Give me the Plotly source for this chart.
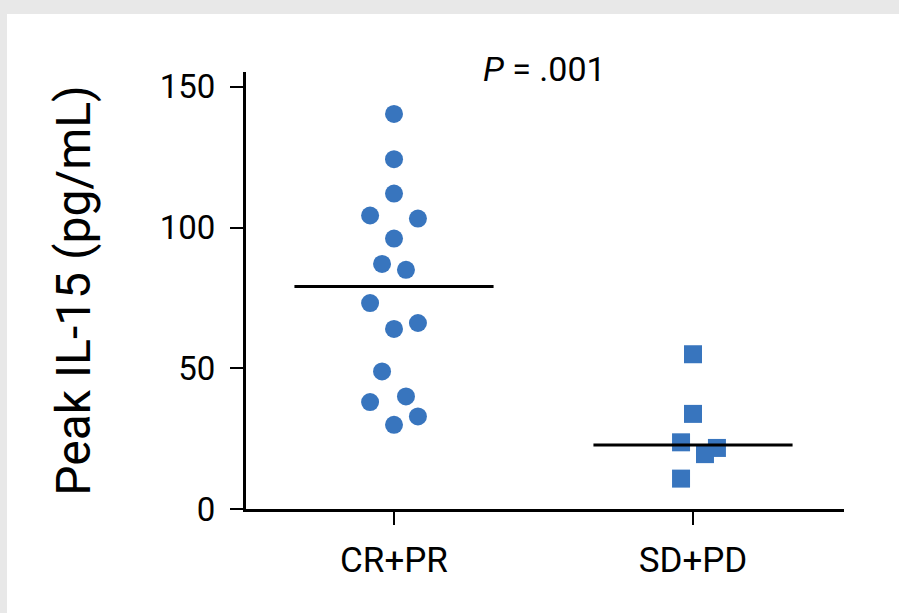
import plotly.graph_objects as go
import numpy as np

# ---- data ----
categories = ["CR+PR", "SD+PD"]
cr_pr_values = [140.4, 124.3, 112.1, 104.3, 103.2, 96.1, 87.1, 85.0, 73.2, 64.0, 66.1, 48.9, 40.0, 38.0, 32.9, 29.9]
cr_pr_slots = [0, 0, 0, -2, 2, 0, -1, 1, -2, 0, 2, -1, 1, -2, 2, 0]
sd_pd_values = [55.0, 33.8, 23.7, 21.7, 19.5, 10.8]
sd_pd_slots = [0, 0, -1, 2, 1, -1]
y_ticks = [0, 50, 100, 150]
p_text = "<i>P</i> = .001"
y_title = "Peak IL-15 (pg/mL)"

# ---- style ----
BLUE = "#3875BE"
SLOT = 0.040      # horizontal spacing of the dot columns (axis units)
HALF = 0.333      # half-width of median bars
FONT = "Roboto, Arial, sans-serif"

W, H = 899, 613
ml, mr, mt, mb = 246, 55, 72, 104
pw, ph = W - ml - mr, H - mt - mb

fig = go.Figure()

groups = [
    (0, cr_pr_values, cr_pr_slots, "circle"),
    (1, sd_pd_values, sd_pd_slots, "square"),
]
for pos, vals, slots, sym in groups:
    xs = [pos + s * SLOT for s in slots]
    fig.add_trace(go.Scatter(
        x=xs, y=vals, mode="markers",
        marker=dict(symbol=sym, size=18, color=BLUE, line=dict(width=0)),
        showlegend=False, hoverinfo="y", cliponaxis=False))
    med = float(np.median(vals))
    fig.add_trace(go.Scatter(
        x=[pos - HALF, pos + HALF], y=[med, med], mode="lines",
        line=dict(color="black", width=3), showlegend=False, hoverinfo="skip"))

fig.update_layout(
    width=W, height=H,
    margin=dict(l=ml, r=mr, t=mt, b=mb),
    paper_bgcolor="white", plot_bgcolor="white",
    font=dict(family=FONT, color="black"),
    xaxis=dict(
        range=[-0.495, 1.505], tickvals=[0, 1], ticktext=categories,
        showgrid=False, zeroline=False, showline=True, linecolor="black", linewidth=3,
        ticks="outside", ticklen=13, tickwidth=2, tickcolor="black",
        tickfont=dict(size=35, family=FONT), ticklabelstandoff=5,
    ),
    yaxis=dict(
        range=[0, 155.3], tickvals=y_ticks,
        showgrid=False, zeroline=False, showline=True, linecolor="black", linewidth=3,
        ticks="outside", ticklen=13, tickwidth=2, tickcolor="black",
        tickfont=dict(size=33, family=FONT), ticklabelstandoff=8,
        title=dict(text=y_title, font=dict(size=48, family=FONT), standoff=54),
    ),
    annotations=[dict(
        text=p_text, x=(544 - ml) / pw, y=(H - mb - 69) / ph,
        xref="paper", yref="paper", xanchor="center", yanchor="middle",
        showarrow=False, font=dict(size=34, family=FONT, color="black"))],
    shapes=[
        dict(type="rect", xref="paper", yref="paper", layer="below",
             x0=-0.5, x1=1.2, y0=(H - mb - 14) / ph, y1=1.3,
             fillcolor="#e8e8e8", line=dict(width=0)),
        dict(type="rect", xref="paper", yref="paper", layer="below",
             x0=-0.5, x1=(7 - ml) / pw, y0=-0.4, y1=1.3,
             fillcolor="#e8e8e8", line=dict(width=0)),
    ],
)

fig.write_html(
    "out.html",
    config={"displayModeBar": False},
    post_script="document.body.style.margin='0';document.body.style.overflow='hidden';",
)
